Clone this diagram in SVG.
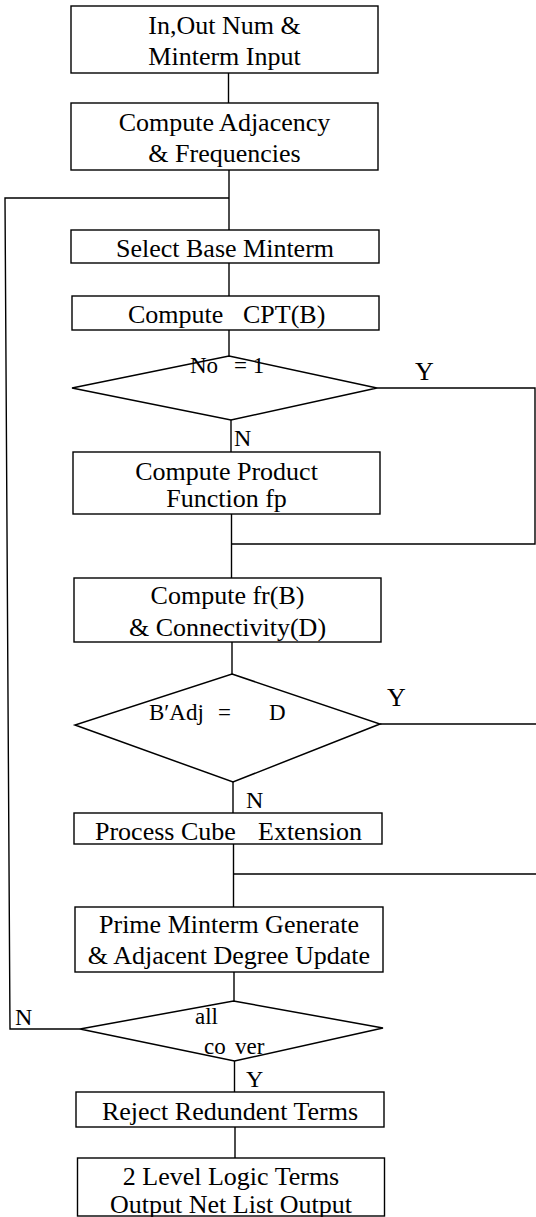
<svg xmlns="http://www.w3.org/2000/svg" width="536" height="1217" viewBox="0 0 536 1217">
<style>
.box{fill:#fff;stroke:#000;stroke-width:1.4}
.dia{fill:#fff;stroke:#000;stroke-width:1.5}
.ln{fill:none;stroke:#000;stroke-width:1.4}
text{font-family:"Liberation Serif","Times New Roman",serif;font-size:26px;fill:#000}
.c{text-anchor:middle}
.d{font-size:23px}
</style>
<rect width="536" height="1217" fill="#fff"/>
<g id="connectors">
<line class="ln" x1="228.5" y1="73" x2="228.5" y2="103"/>
<line class="ln" x1="229" y1="170" x2="229" y2="230"/>
<polyline class="ln" points="80,1029 10,1029 5,198 229,198"/>
<line class="ln" x1="229" y1="263" x2="229" y2="296"/>
<line class="ln" x1="229" y1="330" x2="229" y2="356"/>
<line class="ln" x1="231" y1="420" x2="231" y2="452"/>
<polyline class="ln" points="377,388 535,388 535,544 231.5,544"/>
<line class="ln" x1="231.5" y1="514" x2="231.5" y2="578"/>
<line class="ln" x1="232" y1="642" x2="232" y2="674"/>
<polyline class="ln" points="380,724 538,724 538,874 233.5,874"/>
<line class="ln" x1="233" y1="782" x2="233" y2="813"/>
<line class="ln" x1="233.5" y1="844" x2="233.5" y2="907"/>
<line class="ln" x1="234" y1="972" x2="234" y2="1001"/>
<line class="ln" x1="234.5" y1="1061" x2="234.5" y2="1092"/>
<line class="ln" x1="235" y1="1127" x2="235" y2="1158"/>
<text x="415" y="380">Y</text>
<text x="234" y="446" style="font-size:24px">N</text>
<text x="387" y="706">Y</text>
<text x="246" y="808" style="font-size:24px">N</text>
<text x="15" y="1025" style="font-size:24px">N</text>
<text x="246" y="1087" style="font-size:24px">Y</text>
</g>
<g id="n1"><rect class="box" x="71" y="6" width="307" height="67"/>
<text class="c" x="224.5" y="34">In,Out Num &amp;</text><text class="c" x="224.5" y="65">Minterm Input</text></g>
<g id="n2"><rect class="box" x="71" y="103" width="307" height="67"/>
<text class="c" x="224.5" y="131">Compute Adjacency</text><text class="c" x="224.5" y="162">&amp; Frequencies</text></g>
<g id="n3"><rect class="box" x="71" y="230" width="308" height="33"/>
<text class="c" x="225" y="257">Select Base Minterm</text></g>
<g id="n4"><rect class="box" x="72" y="296" width="307" height="34"/>
<text y="323"><tspan x="128">Compute</tspan><tspan x="243">CPT(B)</tspan></text></g>
<g id="d1"><polygon class="dia" points="229,356 377,388 231,420 72,388"/>
<text class="d" y="373"><tspan x="190">No</tspan><tspan x="234">= 1</tspan></text></g>
<g id="n5"><rect class="box" x="73" y="452" width="307" height="62"/>
<text class="c" x="226.5" y="480">Compute Product</text><text class="c" x="226.5" y="507">Function fp</text></g>
<g id="n6"><rect class="box" x="74" y="578" width="307" height="64"/>
<text class="c" x="227.5" y="604">Compute fr(B)</text><text class="c" x="227.5" y="636">&amp; Connectivity(D)</text></g>
<g id="d2"><polygon class="dia" points="232,674 380,724 233,782 75,725"/>
<text class="d" y="720"><tspan x="149">B′Adj</tspan><tspan x="218">=</tspan><tspan x="269">D</tspan></text></g>
<g id="n7"><rect class="box" x="74" y="813" width="308" height="31"/>
<text y="840"><tspan x="95">Process Cube</tspan><tspan x="258">Extension</tspan></text></g>
<g id="n8"><rect class="box" x="75" y="907" width="308" height="65"/>
<text class="c" x="229" y="933">Prime Minterm Generate</text><text class="c" x="229" y="964">&amp; Adjacent Degree Update</text></g>
<g id="d3"><polygon class="dia" points="233.5,1001 383,1028 234.5,1061 80,1029"/>
<text class="d" x="195" y="1024">all</text>
<text class="d" y="1054"><tspan x="204">co</tspan><tspan x="235">ver</tspan></text></g>
<g id="n9"><rect class="box" x="76" y="1092" width="308" height="35"/>
<text class="c" x="230" y="1120">Reject Redundent Terms</text></g>
<g id="n10"><rect class="box" x="77.5" y="1158" width="307" height="58"/>
<text class="c" x="231" y="1185">2 Level Logic Terms</text><text class="c" x="231" y="1213">Output Net List Output</text></g>
</svg>
